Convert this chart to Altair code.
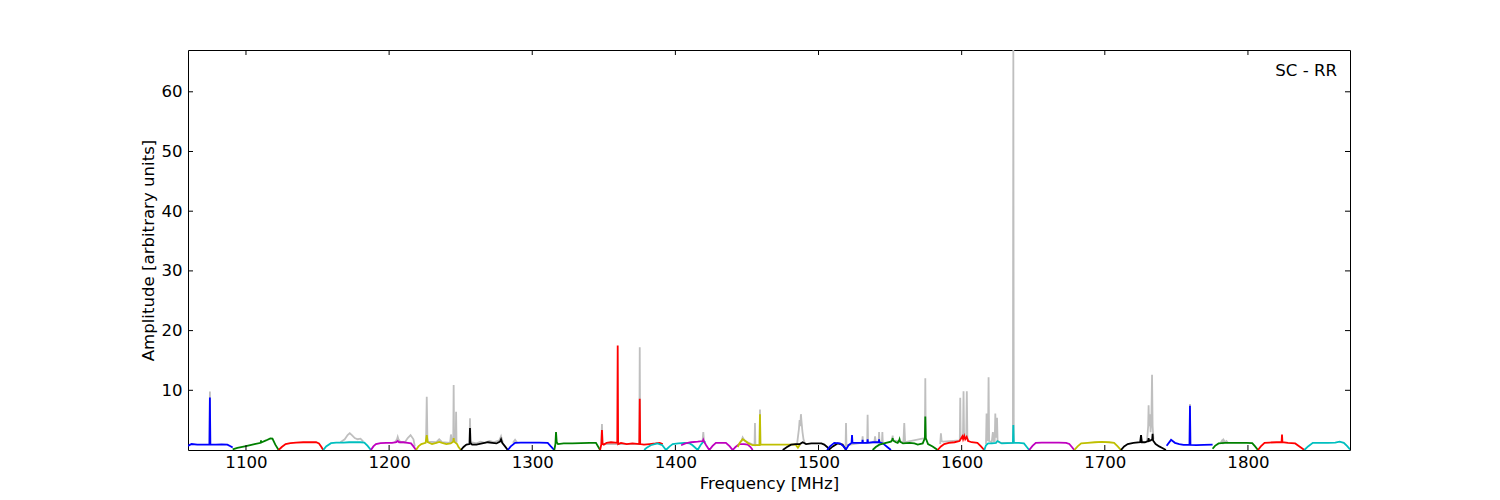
import altair as alt
import pandas as pd

# ---------------- data ----------------
x_ticks = [1100, 1200, 1300, 1400, 1500, 1600, 1700, 1800]
y_ticks = [10, 20, 30, 40, 50, 60]
x_domain = [1059.5, 1871.3]
y_domain = [0, 67]
panel_label = "SC - RR"

# calibrated sub-band spectra (frequency MHz, amplitude)
f01 = [1059.5, 1062, 1066, 1070, 1074.5, 1074.8, 1075.1, 1079, 1083, 1087, 1089.5, 1090.7]
a01 = [0.7, 1.0, 0.9, 0.9, 0.9, 8.8, 0.9, 0.9, 0.95, 0.9, 0.6, 0.4]
f02 = [1090.7, 1094, 1100, 1106, 1110.3, 1110.5, 1110.7, 1114, 1117, 1118.5, 1120.5, 1122.8]
a02 = [0.1, 0.35, 0.65, 1.0, 1.2, 1.6, 1.25, 1.6, 1.95, 1.9, 0.9, 0.0]
f03 = [1122.8, 1125, 1127.7, 1131, 1135, 1140, 1145, 1149, 1151, 1152.5, 1154]
a03 = [0.0, 0.5, 1.0, 1.15, 1.25, 1.3, 1.3, 1.3, 1.1, 0.6, 0.0]
f04 = [1154, 1156, 1159.4, 1163, 1168, 1172, 1176, 1180, 1182.7, 1185, 1187.3]
a04 = [0.0, 0.6, 1.15, 1.25, 1.25, 1.3, 1.3, 1.3, 1.25, 0.7, 0.0]
f05 = [1187.3, 1189, 1190.8, 1194, 1198, 1202, 1205, 1206, 1207, 1210, 1213, 1215.3, 1217, 1218.8]
a05 = [0.0, 0.6, 1.0, 1.15, 1.2, 1.2, 1.3, 1.5, 1.3, 1.3, 1.2, 1.1, 0.6, 0.0]
f06 = [1218.8, 1220.5, 1222.5, 1225.5, 1226.3, 1227, 1230, 1233, 1235, 1237, 1240, 1243, 1244.8, 1245.1, 1245.4, 1247.5, 1248.5, 1250.2]
a06 = [0.0, 0.6, 1.0, 1.2, 2.5, 1.3, 1.0, 1.2, 1.35, 1.2, 1.0, 1.1, 1.4, 2.0, 1.4, 1.0, 0.5, 0.0]
f07 = [1250.2, 1252, 1254, 1256.2, 1256.5, 1256.8, 1258, 1261, 1265, 1269, 1272, 1275, 1277.5, 1278.2, 1279, 1281, 1282.9]
a07 = [0.0, 0.5, 0.9, 1.0, 3.7, 1.2, 0.9, 0.9, 1.1, 1.3, 1.2, 1.1, 1.4, 1.8, 1.2, 0.6, 0.0]
f08 = [1282.9, 1285, 1288, 1292, 1296, 1300, 1305, 1310.8, 1313, 1315.4]
a08 = [0.0, 0.6, 1.2, 1.25, 1.25, 1.25, 1.25, 1.2, 0.6, 0.0]
f09 = [1315.4, 1316.2, 1316.6, 1317.1, 1318, 1322, 1328, 1334, 1340, 1344.5, 1347.4]
a09 = [0.0, 1.0, 3.0, 1.3, 1.0, 1.1, 1.1, 1.15, 1.2, 1.2, 0.0]
f10 = [1347.4, 1348.3, 1348.7, 1349.1, 1350, 1352, 1355, 1359.4, 1359.7, 1360.0, 1362, 1366, 1370,
       1374.8, 1375.1, 1375.4, 1378, 1382, 1386, 1389, 1391.2]
a10 = [0.0, 1.0, 3.35, 1.0, 0.9, 1.2, 1.3, 1.2, 17.5, 1.0, 1.2, 1.0, 1.1, 1.0, 8.6, 1.0, 0.9, 1.0, 1.1, 1.2, 1.0]
f11 = [1378.2, 1380, 1382.8, 1387.4, 1390.9, 1393.4, 1396, 1398.1, 1402, 1406.3, 1410, 1412, 1415.6, 1417.5, 1419.5, 1421]
a11 = [0.0, 0.4, 0.8, 1.1, 0.8, 0.0, 0.6, 1.0, 1.1, 1.2, 1.1, 0.8, 0.0, 0.8, 1.4, 1.3]
f12 = [1404, 1407, 1411, 1415.6, 1419.2, 1419.5, 1419.8, 1421.5, 1423.7, 1426, 1428.3, 1432, 1435.3, 1438,
       1440, 1442, 1444.6, 1448, 1450.5, 1452.5, 1454]
a12 = [0.8, 1.1, 1.3, 1.4, 1.5, 1.7, 1.5, 0.8, 0.0, 0.7, 1.2, 1.2, 1.2, 0.6, 0.0, 0.5, 1.0, 1.0, 0.9, 0.5, 0.0]
f13 = [1443.5, 1445, 1447, 1449, 1451, 1454, 1456, 1458.8, 1459.1, 1459.4, 1462, 1466, 1470, 1475, 1480, 1484, 1485.6, 1487]
a13 = [0.5, 1.2, 1.8, 1.5, 1.1, 0.8, 0.8, 0.8, 6.0, 0.9, 0.9, 0.9, 0.9, 0.9, 0.9, 0.9, 0.4, 0.9]
f14 = [1475, 1478, 1480.8, 1484, 1487, 1488.9, 1491.3, 1495, 1498.3, 1502, 1504, 1506, 1507.5, 1510, 1513.3, 1516.8, 1519.2]
a14 = [0.0, 0.5, 0.9, 1.0, 1.0, 1.3, 1.0, 1.1, 1.1, 1.1, 0.9, 0.5, 0.1, 0.6, 1.1, 0.9, 0.0]
f15 = [1506, 1508, 1511, 1515, 1517.5, 1519.2, 1521, 1523.1, 1523.4, 1523.7, 1527, 1530.6, 1530.8, 1531,
       1534.1, 1534.3, 1534.5, 1538, 1542.1, 1542.3, 1542.5, 1545, 1548, 1550.6]
a15 = [0.0, 0.6, 1.2, 1.1, 0.6, 0.1, 0.8, 1.2, 2.5, 1.2, 1.2, 1.2, 1.7, 1.2, 1.2, 1.8, 1.2, 1.3, 1.3, 1.8, 1.3, 1.1, 0.5, 0.0]
f16 = [1537.8, 1540, 1542.5, 1547.1, 1550.6, 1551.5, 1551.8, 1552.1, 1554, 1555.3, 1556.3, 1556.6, 1557, 1559,
       1563.5, 1567, 1569.3, 1572.8, 1574.3, 1574.6, 1574.9, 1576.5, 1579.7, 1581.5, 1583.2]
a16 = [0.0, 0.5, 0.9, 1.2, 1.4, 1.7, 2.0, 1.6, 1.3, 1.2, 1.6, 1.8, 1.4, 1.1, 1.2, 1.1, 0.9, 1.1, 2.0, 5.6, 2.0, 1.0, 0.6, 0.3, 0.0]
f17 = [1583.2, 1585.5, 1587.8, 1591, 1595, 1598.5, 1600.5, 1601, 1601.8, 1602.5, 1603.5, 1604.5, 1607, 1611, 1613.5, 1615.8]
a17 = [0.0, 0.6, 1.0, 1.2, 1.3, 1.5, 2.3, 1.8, 2.35, 1.8, 2.2, 1.5, 1.3, 1.2, 0.6, 0.0]
f18 = [1615.8, 1617, 1618.5, 1621, 1624, 1625, 1628, 1632, 1635.8, 1636.1, 1636.4, 1640, 1643.5, 1645.5, 1647.2]
a18 = [0.0, 0.8, 1.1, 1.1, 1.2, 1.5, 1.1, 1.15, 1.2, 4.2, 1.2, 1.2, 1.1, 0.5, 0.0]
f19 = [1647.2, 1649.5, 1651.8, 1656, 1662, 1668, 1673, 1675.2, 1677, 1678.7]
a19 = [0.0, 0.7, 1.2, 1.25, 1.25, 1.25, 1.2, 1.0, 0.5, 0.0]
f20 = [1678.7, 1681, 1683.5, 1688, 1693, 1698, 1703, 1706.5, 1709, 1711.3]
a20 = [0.0, 0.6, 1.1, 1.2, 1.3, 1.35, 1.3, 1.2, 0.6, 0.0]
f21 = [1711.3, 1713.5, 1716, 1720, 1724.7, 1725.3, 1725.9, 1728, 1730.3, 1730.6, 1730.9, 1732, 1733.1,
       1733.4, 1733.7, 1735.5, 1738, 1740.5, 1742.7]
a21 = [0.0, 0.6, 1.0, 1.2, 1.3, 2.5, 1.3, 1.3, 1.5, 2.0, 1.5, 1.6, 1.8, 2.7, 1.6, 1.0, 0.6, 0.3, 0.0]
f22 = [1743.2, 1746.3, 1749, 1752, 1755, 1759.2, 1759.5, 1759.8, 1764, 1769, 1775.3]
a22 = [0.7, 1.7, 1.2, 1.0, 0.85, 0.85, 7.4, 0.85, 0.8, 0.85, 0.9]
f23 = [1775.3, 1777, 1779.5, 1784, 1789, 1794, 1799, 1803, 1805, 1807]
a23 = [0.2, 0.7, 1.1, 1.2, 1.2, 1.2, 1.2, 1.15, 0.6, 0.0]
f24 = [1807, 1809, 1811.6, 1815, 1820, 1823.5, 1823.8, 1824.1, 1828, 1833, 1836, 1839.4]
a24 = [0.0, 0.6, 1.2, 1.25, 1.3, 1.3, 2.6, 1.3, 1.2, 1.1, 0.6, 0.0]
f25 = [1839.4, 1842, 1845.3, 1850, 1856, 1861, 1864, 1867, 1869.5, 1871.3]
a25 = [0.0, 0.6, 1.2, 1.2, 1.2, 1.25, 1.4, 1.2, 0.6, 0.1]

# raw (uncorrected) spectra with RFI, drawn in grey behind
gf01 = [1074.5, 1074.8, 1075.1]
ga01 = [0.9, 9.8, 0.9]
gf04 = [1166, 1169, 1171, 1172.5, 1174, 1176, 1178, 1180, 1182]
ga04 = [1.3, 1.8, 2.5, 2.8, 2.5, 2.0, 1.8, 1.9, 1.4]
gf05 = [1204, 1205.5, 1206, 1206.5, 1208, 1211, 1213, 1215, 1217, 1218]
ga05 = [1.2, 1.8, 2.2, 1.8, 1.3, 1.3, 2.0, 2.5, 1.8, 0.6]
gf06 = [1225.8, 1226.3, 1226.8, 1233, 1235, 1237, 1242.6, 1243.2, 1243.8, 1244.8, 1245.1, 1245.4, 1246.5, 1246.8, 1247.1]
ga06 = [1.3, 8.9, 1.4, 1.3, 1.8, 1.3, 1.2, 2.6, 1.5, 1.5, 10.9, 1.5, 1.5, 6.4, 1.2]
gf07 = [1256.2, 1256.5, 1256.9, 1261, 1264, 1267, 1270, 1273, 1277, 1278.2, 1279.5]
ga07 = [1.0, 5.3, 1.3, 1.1, 1.4, 1.2, 1.5, 1.3, 1.6, 2.3, 1.2]
gf08 = [1286.5, 1288, 1289.5]
ga08 = [1.2, 1.7, 1.2]
gf10 = [1348.3, 1348.7, 1349.1, 1374.8, 1375.1, 1375.4]
ga10 = [1.0, 4.35, 1.0, 1.0, 17.2, 1.0]
gf12 = [1419, 1419.5, 1420]
ga12 = [1.5, 3.0, 1.5]
gf13 = [1446, 1447, 1448.5, 1455.3, 1455.6, 1455.9, 1458.8, 1459.1, 1459.4]
ga13 = [1.4, 2.1, 1.5, 0.8, 4.5, 0.8, 0.8, 6.8, 0.9]
gf14 = [1485, 1486.3, 1486.8, 1487.3, 1487.7, 1488.2, 1488.8, 1489.5, 1490.5]
ga14 = [1.0, 3.5, 5.0, 4.0, 6.0, 4.5, 3.0, 1.8, 1.1]
gf15 = [1518.9, 1519.2, 1519.5, 1530.5, 1530.8, 1531.1, 1534, 1534.3, 1534.6, 1539, 1539.5, 1540,
        1542, 1542.3, 1542.6, 1544.3, 1544.6, 1544.9]
ga15 = [0.5, 4.5, 0.8, 1.2, 2.3, 1.2, 1.2, 5.9, 1.2, 1.3, 2.3, 1.3, 1.3, 3.0, 1.3, 1.3, 3.0, 1.3]
gf16 = [1551.5, 1551.8, 1552.1, 1559.3, 1559.9, 1560.5, 1574.3, 1574.6, 1574.9]
ga16 = [1.8, 2.4, 1.6, 1.3, 4.5, 1.3, 2.0, 12.0, 2.0]
gf17 = [1585, 1585.5, 1586, 1587, 1598.7, 1599, 1599.3, 1600.9, 1601.3, 1601.7, 1603.2, 1603.6, 1604.0, 1605]
ga17 = [1.0, 2.8, 1.5, 1.4, 1.6, 8.75, 2.0, 2.0, 9.85, 2.0, 2.0, 9.85, 2.0, 1.4]
gf18 = [1617.0, 1617.4, 1617.8, 1618.4, 1618.8, 1619.2, 1621, 1621.8, 1622.5, 1623.1, 1623.5, 1623.9,
        1624.3, 1624.7, 1625.1, 1627, 1635.8, 1636.1, 1636.4]
ga18 = [1.0, 6.1, 1.6, 1.6, 12.2, 1.5, 1.3, 3.0, 1.5, 1.5, 6.1, 2.2, 2.2, 5.4, 1.5, 1.2, 1.2, 67.0, 1.2]
gf21 = [1729.5, 1730.3, 1730.6, 1730.9, 1731.5, 1732, 1732.6, 1733, 1733.4, 1734]
ga21 = [1.5, 4.0, 7.5, 4.0, 6.0, 3.0, 6.0, 12.6, 4.0, 1.8]
gf22 = [1759.2, 1759.5, 1759.8]
ga22 = [0.85, 7.7, 0.85]
gf23 = [1781, 1782, 1782.5, 1783, 1784, 1785, 1786]
ga23 = [1.2, 1.6, 1.3, 1.7, 1.3, 1.5, 1.2]

bands = [(f01, a01), (f02, a02), (f03, a03), (f04, a04), (f05, a05), (f06, a06), (f07, a07),
         (f08, a08), (f09, a09), (f10, a10), (f11, a11), (f12, a12), (f13, a13), (f14, a14),
         (f15, a15), (f16, a16), (f17, a17), (f18, a18), (f19, a19), (f20, a20), (f21, a21),
         (f22, a22), (f23, a23), (f24, a24), (f25, a25)]
raw = {1: (gf01, ga01), 4: (gf04, ga04), 5: (gf05, ga05), 6: (gf06, ga06), 7: (gf07, ga07),
       8: (gf08, ga08), 10: (gf10, ga10), 12: (gf12, ga12), 13: (gf13, ga13), 14: (gf14, ga14),
       15: (gf15, ga15), 16: (gf16, ga16), 17: (gf17, ga17), 18: (gf18, ga18), 21: (gf21, ga21),
       22: (gf22, ga22), 23: (gf23, ga23)}

# ---------------- styling ----------------
cycle = ["#0000ff", "#008000", "#ff0000", "#00bfbf", "#bf00bf", "#bfbf00", "#000000"]
grey = "#bfbfbf"
FONT = "DejaVu Sans"
FS = 16.6
W, H = 1162, 400
TICK = 5

rows = []
names = []
for k, (fs, as_) in enumerate(bands, start=1):
    name = f"band{k:02d}"
    names.append(name)
    for j, (f, a) in enumerate(zip(fs, as_)):
        rows.append({"band": name, "i": j, "f": f, "a": a})
color_df = pd.DataFrame(rows)

grows = []
for k, (fs, as_) in raw.items():
    for j, (f, a) in enumerate(zip(fs, as_)):
        grows.append({"band": f"raw{k:02d}", "i": j, "f": f, "a": a})
grey_df = pd.DataFrame(grows)

band_colors = [cycle[i % len(cycle)] for i in range(len(names))]

xs = alt.Scale(domain=x_domain, nice=False, zero=False)
ys = alt.Scale(domain=y_domain, nice=False, zero=False)
xaxis = alt.Axis(values=x_ticks, format="d", ticks=False, domain=False, grid=False,
                 labelPadding=4, title="Frequency [MHz]", titlePadding=5)
yaxis = alt.Axis(values=y_ticks, format="d", ticks=False, domain=False, grid=False,
                 labelPadding=6, title="Amplitude [arbitrary units]", titlePadding=4)

X = alt.X("f:Q", scale=xs, axis=xaxis)
Y = alt.Y("a:Q", scale=ys, axis=yaxis)

grey_layer = alt.Chart(grey_df).mark_line(color=grey, strokeWidth=1.8, clip=True).encode(
    x=X, y=Y, detail="band:N", order="i:Q")

color_layer = alt.Chart(color_df).mark_line(strokeWidth=1.8, clip=True).encode(
    x=X, y=Y,
    color=alt.Color("band:N", scale=alt.Scale(domain=names, range=band_colors), legend=None),
    order="i:Q")

xt = pd.DataFrame({"f": x_ticks})
yt = pd.DataFrame({"a": y_ticks})
tick_style = dict(color="black", strokeWidth=1)
xt_bottom = alt.Chart(xt).mark_rule(**tick_style).encode(x=X, y=alt.value(H), y2=alt.value(H - TICK))
xt_top = alt.Chart(xt).mark_rule(**tick_style).encode(x=X, y=alt.value(0), y2=alt.value(TICK))
yt_left = alt.Chart(yt).mark_rule(**tick_style).encode(y=Y, x=alt.value(0), x2=alt.value(TICK))
yt_right = alt.Chart(yt).mark_rule(**tick_style).encode(y=Y, x=alt.value(W), x2=alt.value(W - TICK))

label_layer = alt.Chart(pd.DataFrame({"t": [panel_label]})).mark_text(
    align="right", baseline="alphabetic", font=FONT, fontSize=FS, color="black").encode(
    text="t:N", x=alt.value(W - 13), y=alt.value(26))

chart = alt.layer(grey_layer, color_layer, xt_bottom, xt_top, yt_left, yt_right, label_layer).properties(
    width=W, height=H,
    autosize=alt.AutoSizeParams(type="none"),
    padding={"left": 180, "top": 42, "right": 142, "bottom": 42},
).configure_view(stroke="black", strokeWidth=1).configure_axis(
    labelFont=FONT, titleFont=FONT, labelFontSize=FS, titleFontSize=FS,
    titleFontWeight="normal", labelColor="black", titleColor="black"
)

chart.save("out.html", embed_options={"renderer": "svg", "actions": False})
